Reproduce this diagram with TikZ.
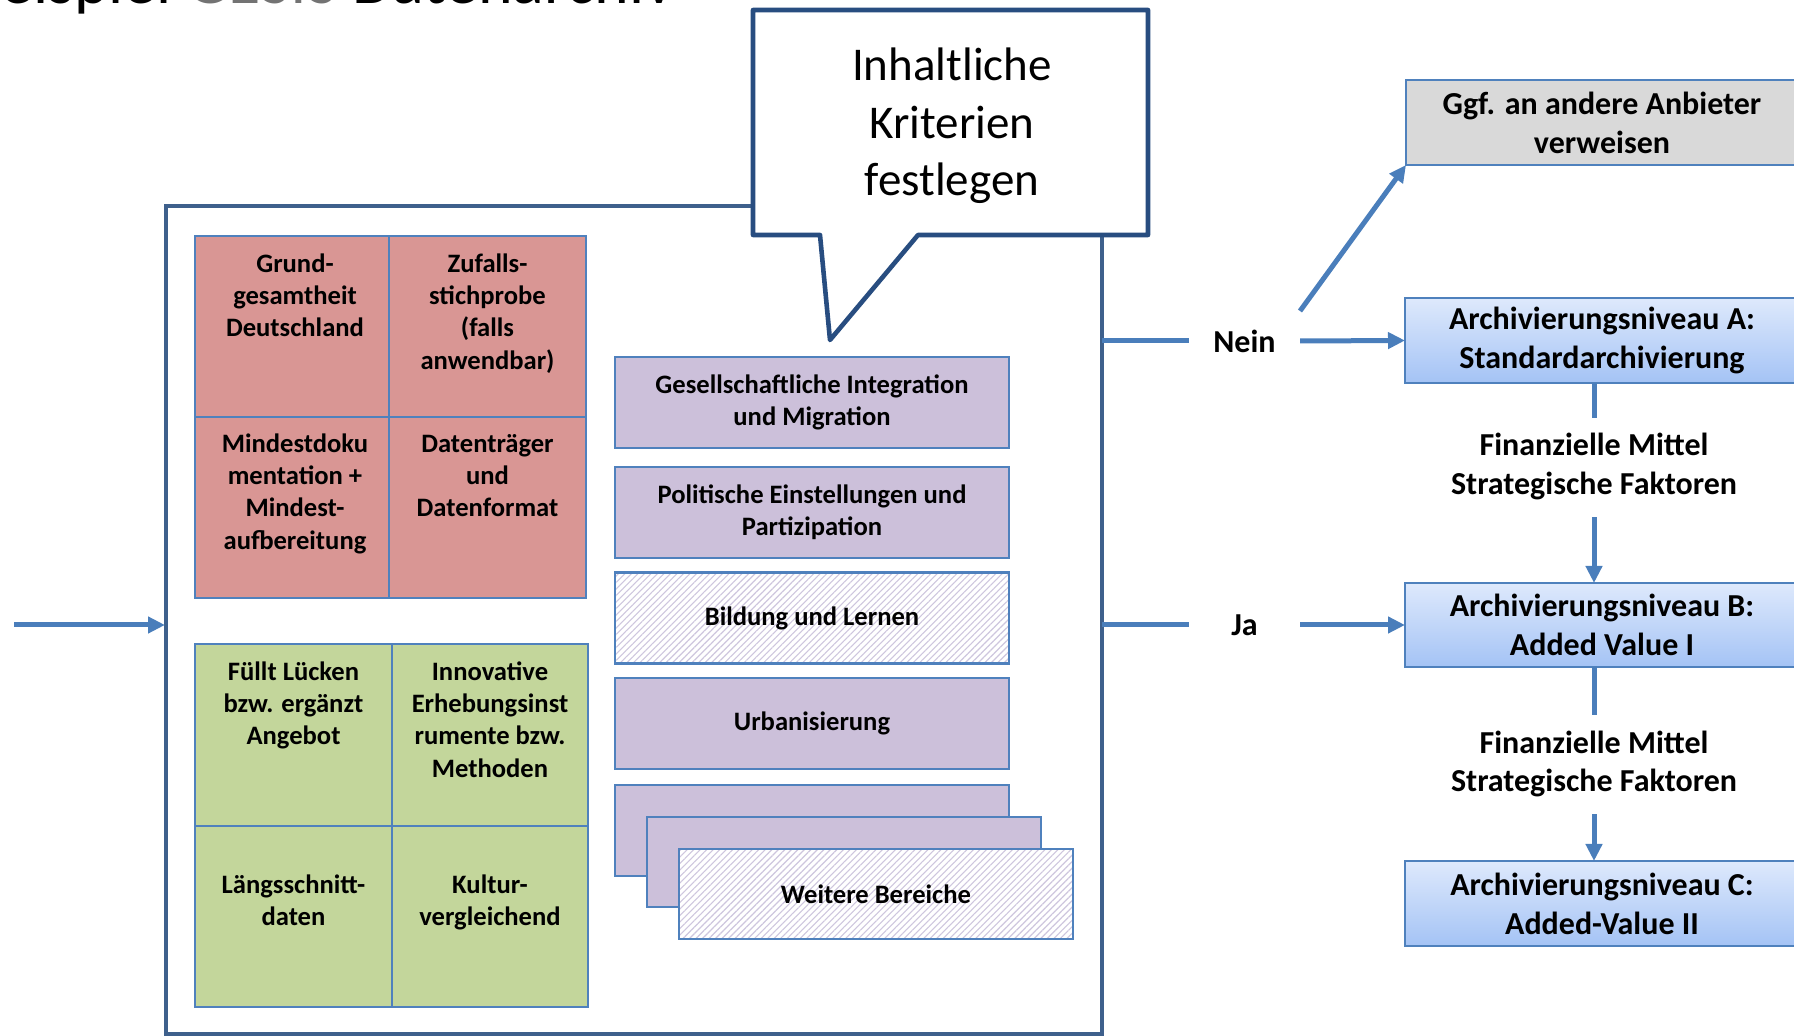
\documentclass[tikz,border=0pt]{standalone}
\usepackage{fontspec}
\setmainfont{Carlito}
\usetikzlibrary{arrows.meta,patterns.meta,calc}
\definecolor{framec}{RGB}{62,96,140}
\definecolor{callc}{RGB}{40,77,128}
\definecolor{conn}{RGB}{74,126,187}
\definecolor{bord}{RGB}{79,129,189}
\definecolor{redf}{RGB}{217,150,148}
\definecolor{greenf}{RGB}{195,214,155}
\definecolor{purf}{RGB}{204,192,218}
\definecolor{hatch}{RGB}{206,198,222}
\definecolor{grayf}{RGB}{217,217,217}
\definecolor{bluetop}{RGB}{222,233,252}
\definecolor{bluebot}{RGB}{164,195,245}
\begin{document}
\begin{tikzpicture}[x=0.5pt,y=-0.5pt,
  cell/.style={draw=bord,line width=1pt,inner sep=0pt,outer sep=0pt},
  celltxt/.style={font=\bfseries\fontsize{13.3}{16.2}\selectfont,align=center,anchor=north,inner sep=0pt},
  pbox/.style={draw=bord,line width=1.25pt,fill=purf,minimum width=197pt,minimum height=45.5pt,inner sep=0pt,outer sep=0pt,
    font=\bfseries\fontsize{13.3}{16.2}\selectfont,align=center},
  hatched/.style={preaction={fill=white},pattern={Lines[angle=45,distance=2.3pt,line width=0.55pt]},pattern color=hatch},
  rbox/.style={draw=bord,line width=1pt,top color=bluetop,bottom color=bluebot,minimum width=197pt,minimum height=42.5pt,
    inner sep=0pt,outer sep=0pt,font=\bfseries\fontsize{16}{19.5}\selectfont,align=center},
  lbl/.style={font=\bfseries\fontsize{16}{19.5}\selectfont,align=center,inner xsep=0pt,inner ysep=5.25pt,outer sep=0pt},
  yn/.style={font=\bfseries\fontsize{16}{19.5}\selectfont,minimum width=55.5pt,minimum height=30pt,inner sep=0pt,outer sep=0pt},
  ln/.style={draw=conn,line width=2.5pt},
  arr/.style={draw=conn,line width=2.5pt,-{Triangle[length=8.5pt,width=8pt]}}
]
\clip (0,0) rectangle (1794,1036);

% cut-off title
\node[anchor=base west,inner sep=0pt,font=\fontsize{33}{39}\selectfont] (title) at (-36,4) {Beispiel {\color[gray]{0.45}GESIS} Datenarchiv};

% outer frame
\draw[framec,line width=2pt] (753,206) -- (166,206) -- (166,1034) -- (1102,1034) -- (1102,235);
\coordinate (fl) at (165,625);
\coordinate (fr1) at (1102,341);
\coordinate (fr2) at (1102,625);
\coordinate (in0) at (14,625);

% callout
\draw[callc,line width=2.3pt,line join=round,fill=white] (753,10) -- (1148,10) -- (1148,235) -- (918,235) -- (830,340) -- (820,235) -- (753,235) -- cycle;
\node[font=\fontsize{23.5}{28.75}\selectfont,align=center,anchor=north,inner sep=0pt] (callout) at (952,40) {\strut Inhaltliche\\Kriterien\\festlegen};

% red grid
\node[cell,fill=redf,minimum width=97pt,minimum height=90.5pt] (r11) at (292,326.5) {};
\node[cell,fill=redf,minimum width=98.5pt,minimum height=90.5pt] (r12) at (487.5,326.5) {};
\node[cell,fill=redf,minimum width=97pt,minimum height=90.5pt] (r21) at (292,507.5) {};
\node[cell,fill=redf,minimum width=98.5pt,minimum height=90.5pt] (r22) at (487.5,507.5) {};
\node[celltxt] (t11) at ($(r11.north)+(3,13)$) {\strut Grund-\\gesamtheit\\Deutschland};
\node[celltxt] (t12) at ($(r12.north)+(0,13)$) {\strut Zufalls-\\stichprobe\\(falls\\anwendbar)};
\node[celltxt] (t21) at ($(r21.north)+(3,12)$) {\strut Mindestdoku\\mentation +\\Mindest-\\aufbereitung};
\node[celltxt] (t22) at ($(r22.north)+(0,12)$) {\strut Datenträger\\und\\Datenformat};

% green grid
\node[cell,fill=greenf,minimum width=98.5pt,minimum height=91pt] (g11) at (293.5,735) {};
\node[cell,fill=greenf,minimum width=98pt,minimum height=91pt] (g12) at (490,735) {};
\node[cell,fill=greenf,minimum width=98.5pt,minimum height=90.5pt] (g21) at (293.5,916.5) {};
\node[cell,fill=greenf,minimum width=98pt,minimum height=90.5pt] (g22) at (490,916.5) {};
\node[celltxt] (u11) at ($(g11.north)+(0,13)$) {\strut Füllt Lücken\\bzw. ergänzt\\Angebot};
\node[celltxt] (u12) at ($(g12.north)+(0,13)$) {\strut Innovative\\Erhebungsinst\\rumente bzw.\\Methoden};
\node[celltxt] (u21) at ($(g21.north)+(0,44)$) {\strut Längsschnitt-\\daten};
\node[celltxt] (u22) at ($(g22.north)+(0,44)$) {\strut Kultur-\\vergleichend};

% purple topic boxes
\node[pbox] (p1) at (812,402.5) {Gesellschaftliche Integration\\und Migration};
\node[pbox] (p2) at (812,512.5) {Politische Einstellungen und\\Partizipation};
\node[pbox,hatched] (p3) at (812,618) {Bildung und Lernen};
\node[pbox] (p4) at (812,723.5) {Urbanisierung};
\node[pbox] (p5) at (812,830.5) {};
\node[pbox,minimum height=45pt] (p6) at (844,862) {};
\node[pbox,hatched,minimum height=45pt] (p7) at (876,894) {Weitere Bereiche};

% right side
\node[rbox,top color=grayf,bottom color=grayf,minimum width=196pt] (ggf) at (1602,122.5) {Ggf. an andere Anbieter\\verweisen};
\node[rbox] (A) at (1602,340.5) {Archivierungsniveau A:\\Standardarchivierung};
\node[rbox,minimum height=42pt] (B) at (1602,625) {Archivierungsniveau B:\\Added Value I};
\node[rbox] (C) at (1602,903.5) {Archivierungsniveau C:\\Added-Value II};
\node[lbl] (fin1) at (1594,467.7) {\strut Finanzielle Mittel\\Strategische Faktoren\strut};
\node[lbl] (fin2) at (1594,764.7) {\strut Finanzielle Mittel\\Strategische Faktoren\strut};
\node[yn] (nein) at (1244.5,341) {Nein};
\node[yn] (ja) at (1244.5,625) {Ja};

% connectors
\draw[arr] (in0) -- (fl);
\draw[ln] (fr1) -- (nein.west);
\draw[arr] (nein.east) -- (A.west);
\draw[arr] (nein.north east) -- (ggf.south west);
\draw[ln] (fr2) -- (ja.west);
\draw[arr] (ja.east) -- (B.west);
\draw[ln] (fin1.north |- A.south) -- (fin1.north);
\draw[arr] (fin1.south) -- (fin1.south |- B.north);
\draw[ln] (fin2.north |- B.south) -- (fin2.north);
\draw[arr] (fin2.south) -- (fin2.south |- C.north);
\end{tikzpicture}
\end{document}
